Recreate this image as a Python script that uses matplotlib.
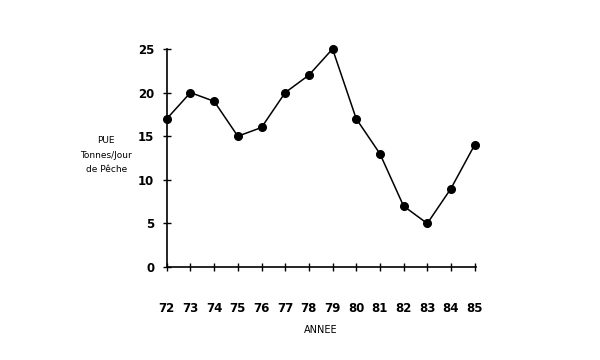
import matplotlib
matplotlib.use("Agg")
import matplotlib.pyplot as plt

years = ["72", "73", "74", "75", "76", "77", "78", "79", "80", "81", "82", "83", "84", "85"]
pue = [17, 20, 19, 15, 16, 20, 22, 25, 17, 13, 7, 5, 9, 14]
yticks = [0, 5, 10, 15, 20, 25]

fig = plt.figure(figsize=(6, 3.6), dpi=100)
ax = fig.add_axes([0.278, 0.258, 0.515, 0.606])
x = list(range(len(years)))
ax.plot(x, pue, color="black", lw=1.1, marker="o", markersize=5.5,
        markerfacecolor="black", markeredgecolor="black", clip_on=False)
ax.set_xlim(0, len(years) - 1 + 0.05)
ax.set_ylim(0, 25)
ax.set_xticks(x)
ax.set_xticklabels(years, fontsize=8.5, fontweight="bold")
ax.set_yticks(yticks)
ax.set_yticklabels([str(v) for v in yticks], fontsize=8.5, fontweight="bold")
ax.tick_params(axis="x", direction="inout", length=6, width=1, pad=22)
ax.tick_params(axis="y", direction="inout", length=6, width=1, pad=6)
for s in ["top", "right"]:
    ax.spines[s].set_visible(False)
for s in ["left", "bottom"]:
    ax.spines[s].set_linewidth(1.2)

fig.text(0.177, 0.569, "PUE\nTonnes/Jour\nde Pêche", ha="center", va="center",
         fontsize=6.5, linespacing=1.75)
fig.text(0.535, 0.083, "ANNEE", ha="center", va="center", fontsize=7)

fig.savefig("out.png", dpi=100)
